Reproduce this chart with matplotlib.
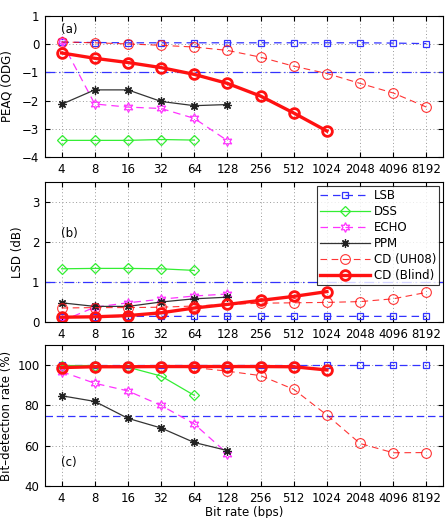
import matplotlib
matplotlib.use("Agg")
import matplotlib.pyplot as plt
import numpy as np

bitrates = ["4", "8", "16", "32", "64", "128", "256", "512", "1024", "2048", "4096", "8192"]

# Panel (a) PEAQ (ODG)
peaq_lsb = [0.07, 0.06, 0.05, 0.05, 0.05, 0.05, 0.05, 0.05, 0.05, 0.05, 0.04, 0.02]
peaq_dss = [-3.41, -3.41, -3.41, -3.38, -3.40]
peaq_echo = [0.10, -2.12, -2.23, -2.28, -2.63, -3.42]
peaq_ppm = [-2.13, -1.62, -1.62, -2.03, -2.18, -2.14]
peaq_uh08 = [0.08, 0.05, 0.01, -0.04, -0.10, -0.22, -0.46, -0.78, -1.04, -1.39, -1.73, -2.23]
peaq_blind = [-0.31, -0.50, -0.65, -0.83, -1.07, -1.39, -1.84, -2.44, -3.08]

# Panel (b) LSD (dB)
lsd_lsb = [0.12, 0.13, 0.14, 0.14, 0.14, 0.14, 0.14, 0.14, 0.14, 0.14, 0.14, 0.14]
lsd_dss = [1.33, 1.34, 1.34, 1.33, 1.29]
lsd_echo = [0.02, 0.37, 0.48, 0.57, 0.65, 0.70]
lsd_ppm = [0.48, 0.39, 0.39, 0.50, 0.58, 0.62]
lsd_uh08 = [0.35, 0.36, 0.36, 0.37, 0.40, 0.44, 0.47, 0.48, 0.49, 0.51, 0.58, 0.74]
lsd_blind = [0.12, 0.13, 0.16, 0.23, 0.35, 0.44, 0.54, 0.64, 0.76]

# Panel (c) Bit-detection rate (%)
bdr_lsb = [100, 100, 100, 100, 100, 100, 100, 100, 100, 100, 100, 100]
bdr_dss = [99.8, 99.8, 99.0, 94.6, 85.0]
bdr_echo = [96.8, 91.0, 87.2, 80.0, 70.8, 56.1]
bdr_ppm = [84.8, 82.0, 73.6, 68.8, 61.6, 57.6]
bdr_uh08 = [99.0, 99.0, 99.0, 99.0, 98.8, 97.0, 94.8, 88.0, 75.2, 61.1, 56.5, 56.6]
bdr_blind = [98.8, 99.2, 99.2, 99.3, 99.3, 99.3, 99.3, 99.2, 97.6]

ref_lines = [-1, 1, 75]

BLUE = "#3333ff"
GREEN = "#33ee33"
MAG = "#ff33ff"
RED = "#ff1111"

fig = plt.figure(figsize=(4.46, 5.18), dpi=100)
left, width = 45 / 446, 398 / 446
axes_pos = [
    [left, 1 - 157 / 518, width, 141 / 518],
    [left, 1 - 322 / 518, width, 140 / 518],
    [left, 1 - 486 / 518, width, 141 / 518],
]
axs = [fig.add_axes(p) for p in axes_pos]

datasets = [
    (peaq_lsb, peaq_dss, peaq_echo, peaq_ppm, peaq_uh08, peaq_blind),
    (lsd_lsb, lsd_dss, lsd_echo, lsd_ppm, lsd_uh08, lsd_blind),
    (bdr_lsb, bdr_dss, bdr_echo, bdr_ppm, bdr_uh08, bdr_blind),
]
ylims = [(-4, 1), (0, 3.5), (40, 110)]
yticks = [[-4, -3, -2, -1, 0, 1], [0, 1, 2, 3], [40, 60, 80, 100]]
ylabels = ["PEAQ (ODG)", "LSD (dB)", "Bit\u2013detection rate (%)"]
tags = ["(a)", "(b)", "(c)"]
tag_y = [0.88, 0.61, 0.14]
ref_styles = ["-.", "-.", "--"]

fs = 8.5
for i, ax in enumerate(axs):
    lsb, dss, echo, ppm, uh08, blind = datasets[i]
    ax.axhline(ref_lines[i], color=BLUE, lw=0.9, ls=ref_styles[i], dashes=(8, 3, 1, 3) if ref_styles[i] == "-." else (6, 3))
    ax.plot(np.arange(len(lsb)), lsb, color=BLUE, ls=(0, (6, 4)), lw=0.9, marker="s",
            ms=5, mfc="none", mec=BLUE, mew=0.9, label="LSB")
    ax.plot(np.arange(len(dss)), dss, color=GREEN, ls="-", lw=0.9, marker="D",
            ms=5.5, mfc="none", mec=GREEN, mew=0.9, label="DSS")
    ax.plot(np.arange(len(echo)), echo, color=MAG, ls=(0, (6, 4)), lw=0.9, marker=(6, 1, 0),
            ms=7, mfc="none", mec=MAG, mew=0.9, label="ECHO")
    ax.plot(np.arange(len(ppm)), ppm, color="#333333", ls="-", lw=0.9, marker=(8, 2, 0),
            ms=6, mec="#222222", mew=0.9, label="PPM")
    ax.plot(np.arange(len(uh08)), uh08, color=RED, ls=(0, (6, 4)), lw=0.8, marker="o",
            ms=7, mfc="none", mec=RED, mew=0.8, alpha=0.85, label="CD (UH08)")
    ax.plot(np.arange(len(blind)), blind, color=RED, ls="-", lw=2.4, marker="o",
            ms=7, mfc="none", mec=RED, mew=2.0, label="CD (Blind)")
    ax.set_xlim(-0.5, 11.5)
    ax.set_ylim(*ylims[i])
    ax.set_yticks(yticks[i])
    ax.set_xticks(np.arange(len(bitrates)))
    ax.set_xticklabels(bitrates)
    ax.grid(True, ls=(0, (1, 2.5)), color="#999999", lw=0.7)
    ax.tick_params(direction="in", top=True, right=True, labelsize=fs, length=3.5, pad=4)
    ax.set_ylabel(ylabels[i], fontsize=fs, labelpad=6 if i < 2 else 3)
    ax.text(0.04, tag_y[i], tags[i], transform=ax.transAxes, fontsize=fs)
    for s in ax.spines.values():
        s.set_linewidth(0.8)

axs[2].set_xlabel("Bit rate (bps)", fontsize=fs, labelpad=1)
leg = axs[1].legend(loc="upper right", fontsize=fs, frameon=True, fancybox=False,
                    edgecolor="black", handlelength=4.2, borderpad=0.3, labelspacing=0.25,
                    handletextpad=0.3, borderaxespad=0.3)
leg.get_frame().set_linewidth(0.8)

fig.savefig("out.png", dpi=100)
